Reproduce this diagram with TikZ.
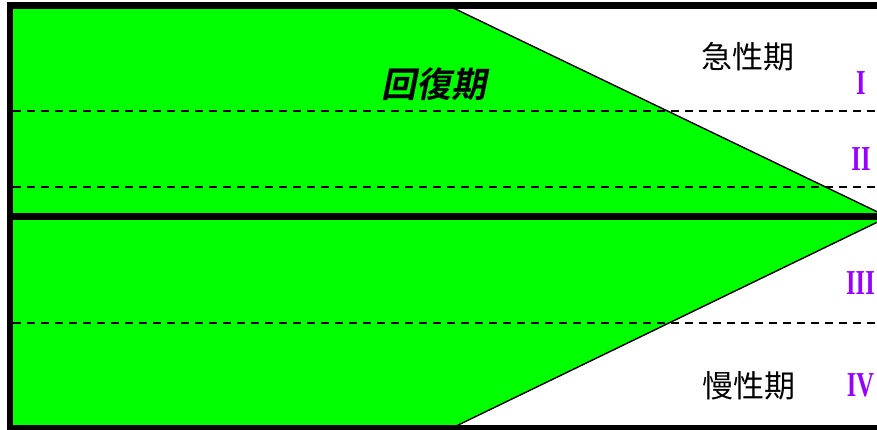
\documentclass[tikz,border=0pt]{standalone}
\usepackage{fontspec}
\newfontfamily\cjk{Noto Sans CJK JP}
\newfontfamily\cjkit[UprightFont={* Bold},FakeSlant=0.2]{Noto Sans CJK JP}
\newfontfamily\romanfont[UprightFont={* Bold},FakeStretch=0.7]{Liberation Serif}
\definecolor{leaf}{HTML}{00FF00}
\definecolor{stagecol}{HTML}{9900FF}
\tikzset{
  phase/.style={font=\cjk\fontsize{31}{31}\selectfont, inner sep=0pt},
  recover/.style={font=\cjkit\fontsize{35}{35}\selectfont, inner sep=0pt},
  stage/.style={font=\romanfont\fontsize{35}{35}\selectfont, text=stagecol, inner sep=0pt},
  border/.style={draw=black, line width=6.5pt},
  divider/.style={draw=black, line width=2pt, dash pattern=on 8pt off 6pt},
  slope/.style={draw=black, line width=1.4pt},
}

\begin{document}
\begin{tikzpicture}[x=1pt,y=-1pt]
  \useasboundingbox (0,0) rectangle (877,430);
  \fill [leaf] (10,5) -- (447,5) -- (888,217) -- (452,428) -- (10,428) -- cycle;
		\draw [divider] (13,111) to (877,111);
		\draw [divider] (13,187) to (877,187);
		\draw [divider] (13,323) to (877,323);
		\draw [slope] (447,5) to (888,217);
		\draw [slope] (888,217) to (452,428);
		\draw [black, line width=6.5pt] (10,216.5) to (877,216.5);
		\draw [border] (10,5.5) rectangle (895,428);
  \node [phase] (acute) at (748,57) {急性期};
  \node [phase] (chronic) at (749,386) {慢性期};
  \node [recover] (recovery) at (434,84) {回復期};
  \node [stage] (stageI) at (861,83.5) {I};
  \node [stage] (stageII) at (861,159) {II};
  \node [stage] (stageIII) at (860.5,283) {III};
  \node [stage] (stageIV) at (860.5,385.5) {IV};
\end{tikzpicture}
\end{document}
